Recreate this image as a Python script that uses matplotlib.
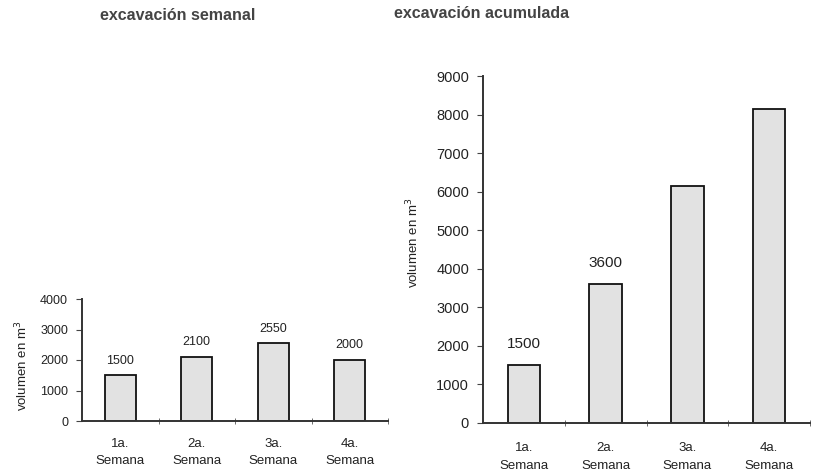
import matplotlib
matplotlib.use("Agg")
import matplotlib.pyplot as plt
from matplotlib.ticker import MultipleLocator, FixedLocator

categories = ["1a.\nSemana", "2a.\nSemana", "3a.\nSemana", "4a.\nSemana"]
semanal = [1500, 2100, 2550, 2000]
acumulada = [1500, 3600, 6150, 8150]
semanal_labels = ["1500", "2100", "2550", "2000"]
acumulada_labels = ["1500", "3600", "", ""]

plt.rcParams['font.family'] = ['Liberation Sans', 'DejaVu Sans']

fig = plt.figure(figsize=(8.13, 4.75), dpi=100)
axL = fig.add_axes([82/813, 1-421/475, 306/813, 122/475])
axR = fig.add_axes([483/813, 1-423/475, 327/813, 347/475])

def style(ax, vals, labels, ymax, step, fs_tick, fs_lab, fs_cat, off, pad):
    x = range(len(vals))
    ax.bar(x, vals, width=0.4, color="#e2e2e2", edgecolor="#111111", linewidth=1.3)
    for i, (v, t) in enumerate(zip(vals, labels)):
        if t:
            ax.text(i, v + off, t, ha="center", va="bottom", fontsize=fs_lab, color="#222222")
    ax.set_xlim(-0.5, len(vals) - 0.5)
    ax.set_ylim(0, ymax)
    ax.yaxis.set_major_locator(MultipleLocator(step))
    ax.set_xticks(list(x))
    ax.set_xticklabels(categories, fontsize=fs_cat, color="#222222", linespacing=1.6)
    ax.tick_params(axis="x", length=0, pad=pad)
    ax.xaxis.set_minor_locator(FixedLocator([i + 0.5 for i in x]))
    ax.tick_params(axis="x", which="minor", length=4, direction="inout", color="#555555")
    ax.tick_params(axis="y", length=4, direction="out", labelsize=fs_tick, labelcolor="#222222", color="#444444", pad=6)
    for s in ("top", "right"):
        ax.spines[s].set_visible(False)
    for s in ("left", "bottom"):
        ax.spines[s].set_color("#333333")
        ax.spines[s].set_linewidth(1.4)
    ax.set_ylabel("volumen en m$^3$", fontsize=fs_cat, color="#222222")

style(axL, semanal, semanal_labels, 4000, 1000, 9, 9, 9.5, 280, 12)
style(axR, acumulada, acumulada_labels, 9000, 1000, 10.5, 11, 9.5, 380, 14)

axL.yaxis.set_label_coords(-0.17, 0.45)
axR.yaxis.set_label_coords(-0.19, 0.52)

fig.text(178/813, 1-16/475, "excavación semanal", ha="center", va="center",
         fontsize=11.5, fontweight="bold", color="#444444")
fig.text(482/813, 1-13/475, "excavación acumulada", ha="center", va="center",
         fontsize=11.5, fontweight="bold", color="#444444")

fig.savefig("out.png", dpi=100)
